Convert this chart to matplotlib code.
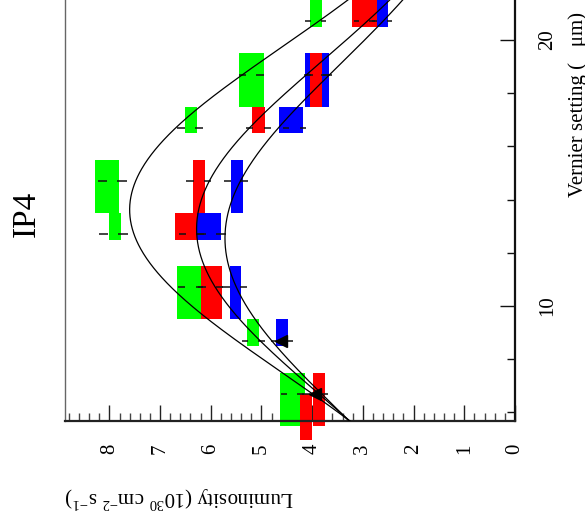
import numpy as np
import matplotlib
matplotlib.use("Agg")
import matplotlib.pyplot as plt
from matplotlib.patches import Rectangle
from matplotlib.ticker import MultipleLocator, FixedLocator

plt.rcParams['font.family'] = ['Liberation Serif', 'DejaVu Serif']
plt.rcParams['mathtext.fontset'] = 'custom'
plt.rcParams['mathtext.rm'] = 'Liberation Serif'
plt.rcParams['mathtext.it'] = 'Liberation Serif:italic'

# ---------------- data (luminosity in 1e30 cm^-2 s^-1, vernier in um) ----------------
green_pt_v   = [6.7, 8.7, 10.7, 12.7, 14.7, 16.7, 18.7, 20.7]
green_pt_lum = [4.39, 5.16, 6.40, 7.92, 7.94, 6.41, 5.20, 3.93]
green_pt_err = [0.22, 0.22, 0.25, 0.28, 0.28, 0.25, 0.25, 0.21]
green_box_vlo = [5.5, 8.5, 9.5, 12.5, 13.5, 16.5, 17.5, 20.5]
green_box_vhi = [7.5, 9.5, 11.5, 13.5, 15.5, 17.5, 19.5, 21.5]
green_box_llo = [4.15, 5.05, 6.19, 7.77, 7.81, 6.27, 4.96, 3.80]
green_box_lhi = [4.63, 5.28, 6.66, 8.00, 8.28, 6.51, 5.44, 4.04]

red_pt_v   = [6.7, 10.7, 12.7, 14.7, 16.7, 18.7, 20.7]
red_pt_lum = [3.94, 6.00, 6.38, 6.24, 5.06, 3.92, 2.97]
red_pt_err = [0.26, 0.25, 0.25, 0.24, 0.25, 0.25, 0.20]
red_box_vlo = [5.5, 4.96, 9.5, 12.5, 13.5, 16.5, 17.5, 20.5]
red_box_vhi = [7.5, 6.69, 11.5, 13.5, 15.5, 17.5, 19.5, 21.5]
red_box_llo = [3.74, 4.00, 5.78, 6.28, 6.11, 4.94, 3.80, 2.73]
red_box_lhi = [3.98, 4.24, 6.19, 6.70, 6.35, 5.18, 4.04, 3.21]

blue_pt_v   = [8.7, 10.7, 12.7, 14.7, 16.7, 18.7, 20.7]
blue_pt_lum = [4.60, 5.53, 6.00, 5.50, 4.35, 3.88, 2.62]
blue_pt_err = [0.22, 0.25, 0.30, 0.24, 0.22, 0.27, 0.20]
blue_box_vlo = [8.5, 9.5, 12.5, 13.5, 16.5, 17.5, 20.5]
blue_box_vhi = [9.5, 11.5, 13.5, 15.5, 17.5, 19.5, 21.5]
blue_box_llo = [4.47, 5.40, 5.80, 5.36, 4.18, 3.66, 2.50]
blue_box_lhi = [4.71, 5.63, 6.28, 5.60, 4.65, 4.14, 2.73]

marker_v   = [8.7, 6.7]
marker_lum = [4.61, 3.95]

# Gaussian fit parameters (outer, middle, inner curve)
fit_amp   = [7.60, 6.28, 5.72]
fit_mean  = [13.62, 12.90, 12.55]
fit_sigma = [6.10, 6.30, 6.50]

lum_ticks = [0, 1, 2, 3, 4, 5, 6, 7, 8]
vern_ticks = [10, 20]

# ---------------- figure ----------------
W, H = 585, 521
fig = plt.figure(figsize=(W / 100, H / 100), dpi=100)
ax = fig.add_axes([65 / W, 100 / H, 450 / W, 447.5 / H])
ax.set_xlim(8.875, 0)
ax.set_ylim(5.68, 22.5)

series = [
    ('#00ff00', green_box_vlo, green_box_vhi, green_box_llo, green_box_lhi, green_pt_v, green_pt_lum, green_pt_err),
    ('#0000ff', blue_box_vlo, blue_box_vhi, blue_box_llo, blue_box_lhi, blue_pt_v, blue_pt_lum, blue_pt_err),
    ('#ff0000', red_box_vlo, red_box_vhi, red_box_llo, red_box_lhi, red_pt_v, red_pt_lum, red_pt_err),
]
gap = 0.1
for col, vlo, vhi, llo, lhi, pv, pl, pe in series:
    for a, b, c, d in zip(vlo, vhi, llo, lhi):
        ax.add_patch(Rectangle((c, a), d - c, b - a, facecolor=col, edgecolor='none',
                               clip_on=False, zorder=2))
for col, vlo, vhi, llo, lhi, pv, pl, pe in series:
    for v, l, e in zip(pv, pl, pe):
        ax.plot([l - e, l - gap], [v, v], color='#111111', lw=1.1, zorder=3, solid_capstyle='butt')
        ax.plot([l + gap, l + e], [v, v], color='#111111', lw=1.1, zorder=3, solid_capstyle='butt')

ax.plot(marker_lum, marker_v, ls='none', marker='<', color='k', ms=8, zorder=5)

vgrid = np.linspace(5.0, 23.0, 600)
for A, mu, s in zip(fit_amp, fit_mean, fit_sigma):
    ax.plot(A * np.exp(-(vgrid - mu) ** 2 / (2 * s * s)), vgrid, color='k', lw=0.9, zorder=4)

# spines
ax.spines['top'].set_visible(False)
ax.spines['left'].set_color('#666666')
ax.spines['left'].set_linewidth(1.0)
ax.spines['bottom'].set_linewidth(1.6)
ax.spines['bottom'].set_color('#222222')
ax.spines['right'].set_linewidth(1.6)
ax.spines['right'].set_color('#111111')

# luminosity axis (bottom)
ax.xaxis.set_major_locator(FixedLocator(lum_ticks))
ax.xaxis.set_minor_locator(MultipleLocator(0.2))
ax.set_xticklabels([str(t) for t in lum_ticks], rotation=90, fontsize=15)
ax.tick_params(axis='x', which='major', direction='in', length=11.5, width=1.0, pad=16.5, color='#222222')
ax.tick_params(axis='x', which='minor', direction='in', length=5.8, width=1.0, color='#444444')

# vernier axis (right)
ax.yaxis.tick_right()
ax.yaxis.set_major_locator(FixedLocator(vern_ticks))
ax.yaxis.set_minor_locator(FixedLocator([6, 8, 12, 14, 16, 18, 22]))
ax.set_yticklabels([str(t) for t in vern_ticks], rotation=90, fontsize=15, va='center')
ax.tick_params(axis='y', which='major', direction='in', length=10.8, width=1.0, pad=16.5, color='#111111')
ax.tick_params(axis='y', which='minor', direction='in', length=5.5, width=1.0, color='#111111')
ax.tick_params(axis='y', which='both', left=False)

# texts
fig.text(583 / W, (H - 197) / H, "Vernier setting (   \u03bcm)", rotation=90, rotation_mode='anchor',
         ha='left', va='baseline', fontsize=15)
fig.text(294 / W, (H - 491.7) / H, r"Luminosity (10$^{30}$ cm$^{-2}$ s$^{-1}$)", rotation=180,
         rotation_mode='anchor', ha='left', va='baseline', fontsize=15)
fig.text(35 / W, (H - 237) / H, "IP4", rotation=90, rotation_mode='anchor',
         ha='left', va='baseline', fontsize=24)

fig.savefig("out.png", dpi=100)
